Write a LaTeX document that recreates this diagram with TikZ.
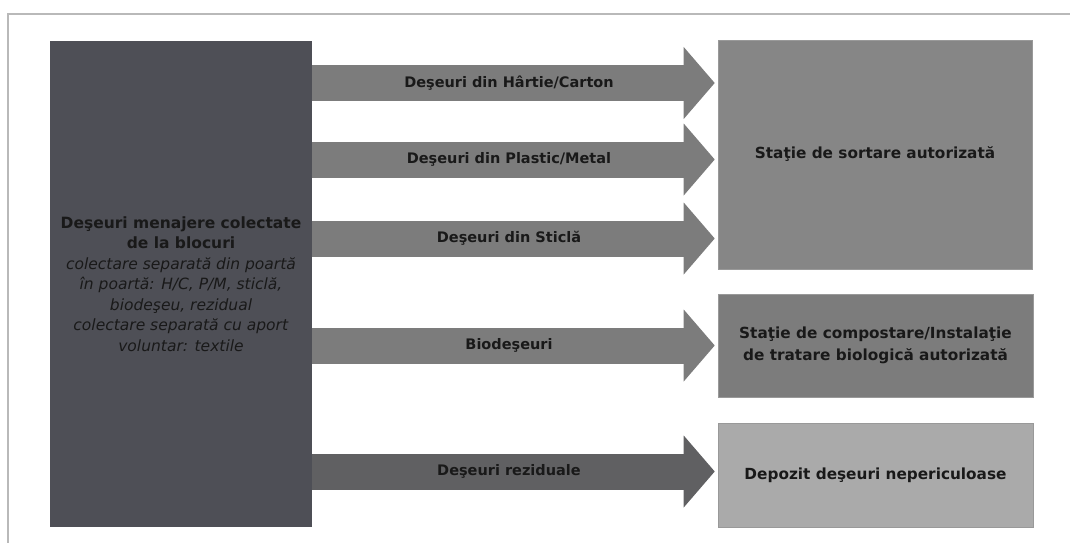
\documentclass[tikz,border=0pt]{standalone}
\usepackage{fontspec}
\setmainfont{DejaVu Sans}
\usetikzlibrary{arrows.meta}
\definecolor{boxdark}{RGB}{78,79,86}
\definecolor{boxsort}{RGB}{134,134,134}
\definecolor{boxcomp}{RGB}{124,124,124}
\definecolor{boxdepo}{RGB}{170,170,170}
\definecolor{flowgray}{RGB}{124,124,124}
\definecolor{flowdark}{RGB}{96,96,98}
\definecolor{framegray}{RGB}{185,185,185}

\begin{document}
\begin{tikzpicture}[x=1pt, y=-1pt,
		box/.style={draw=black!40, line width=0.6pt, align=center, inner sep=0pt, text=black!90,
			font=\bfseries\fontsize{15.3}{22}\selectfont},
		flow/.style={line width=36pt, -{Triangle[length=31pt, width=72pt, line width=0pt]}, shorten >=3pt},
		flowtext/.style={font=\bfseries\fontsize{14.5}{17}\selectfont, text=black!90, xshift=-6pt}]
	\useasboundingbox (0,0) rectangle (1070,543);
	\draw[framegray, line width=1.5pt] (8,543) -- (8,14) -- (1070,14);

		\node[box, draw=none, fill=boxdark, minimum width=262pt, minimum height=486pt,
			font=\fontsize{15.5}{20.5}\selectfont] (src) at (181,284) {\textbf{Deşeuri menajere colectate}\\
			\textbf{de la blocuri}\\
			\textit{colectare separată din poartă}\\
			\textit{în poartă: H/C, P/M, sticlă,}\\
			\textit{biodeşeu, rezidual}\\
			\textit{colectare separată cu aport}\\
			\textit{voluntar: textile}};
		\node[box, fill=boxsort, minimum width=314pt, minimum height=229pt] (sort) at (875,154.5) {Staţie de sortare autorizată};
		\node[box, fill=boxcomp, minimum width=315pt, minimum height=103pt] (comp) at (875.5,345.5) {Staţie de compostare/Instalaţie\\de tratare biologică autorizată};
		\node[box, fill=boxdepo, minimum width=315pt, minimum height=104pt] (depo) at (875.5,475) {Depozit deşeuri nepericuloase};

		\draw[flow, flowgray] (src.east |- 0,83) -- (sort.west |- 0,83) node[flowtext, midway] {Deşeuri din Hârtie/Carton};
		\draw[flow, flowgray] (src.east |- 0,159.5) -- (sort.west |- 0,159.5) node[flowtext, midway] {Deşeuri din Plastic/Metal};
		\draw[flow, flowgray] (src.east |- 0,238.5) -- (sort.west |- 0,238.5) node[flowtext, midway] {Deşeuri din Sticlă};
		\draw[flow, flowgray] (src.east |- 0,345.5) -- (comp.west |- 0,345.5) node[flowtext, midway] {Biodeşeuri};
		\draw[flow, flowdark] (src.east |- 0,471.5) -- (depo.west |- 0,471.5) node[flowtext, midway] {Deşeuri reziduale};
\end{tikzpicture}
\end{document}
